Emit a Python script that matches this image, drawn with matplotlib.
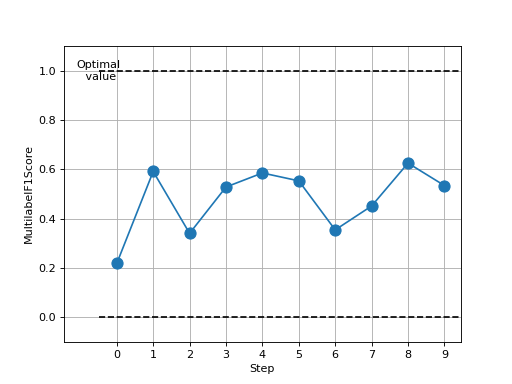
import matplotlib
matplotlib.use('Agg')
import matplotlib.pyplot as plt
import numpy as np

steps = np.arange(10)
scores = [0.218, 0.591, 0.340, 0.528, 0.585, 0.553, 0.354, 0.451, 0.625, 0.534]
optimal = 1.0
worst = 0.0

fig, ax = plt.subplots(figsize=(6.4, 4.8), dpi=80)
ax.plot(steps, scores, marker='o', markersize=10)
ax.hlines([optimal, worst], -0.5, 10, colors='black', linestyles='dashed')
ax.text(-0.5, optimal, "Optimal\n value", ha='center', va='center')
ax.set_xlim(-1.45, 9.45)
ax.set_ylim(-0.1, 1.1)
ax.set_xticks(steps)
ax.grid(True)
ax.set_xlabel('Step')
ax.set_ylabel('MultilabelF1Score')
fig.savefig('out.png')
